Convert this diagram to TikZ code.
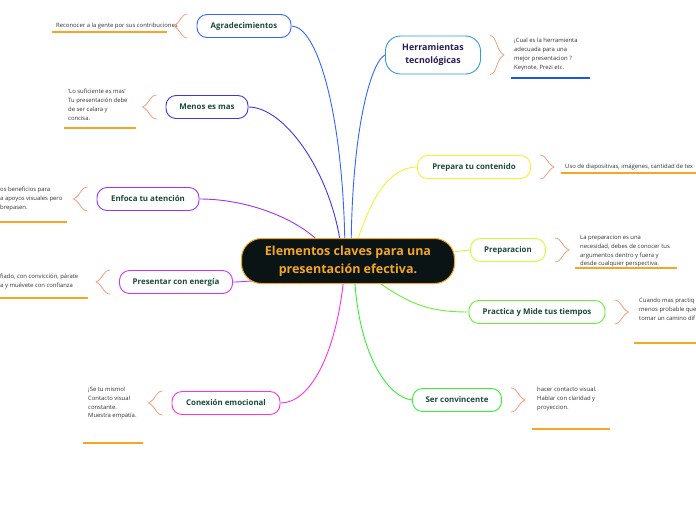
\documentclass[tikz,border=0pt]{standalone}
\usepackage{fontspec}
\setmainfont{Open Sans}
\usepackage{tikz}
\usetikzlibrary{calc, backgrounds}
\definecolor{MMBlue}{HTML}{3366FF}
\definecolor{MMIndigo}{HTML}{4433EE}
\definecolor{MMPurple}{HTML}{9933FF}
\definecolor{MMViolet}{HTML}{CC33FF}
\definecolor{MMPink}{HTML}{FF33DD}
\definecolor{MMSky}{HTML}{3399DD}
\definecolor{MMYellow}{HTML}{F5F030}
\definecolor{MMLime}{HTML}{C8FF33}
\definecolor{MMGreen}{HTML}{66F033}
\definecolor{MMMint}{HTML}{33F033}
\definecolor{MMOrange}{HTML}{F5A623}
\definecolor{MMBrace}{HTML}{F0A080}
\definecolor{MMDark}{HTML}{0A1414}
\definecolor{MMText}{HTML}{1A4A3A}
\definecolor{MMNavy}{HTML}{2A1A5A}
\definecolor{MMGray}{HTML}{333333}
\definecolor{MMLineBlue}{HTML}{1A55EE}

\begin{document}
\begin{tikzpicture}[x=1pt, y=-1pt,
    topic/.style={rectangle, rounded corners=10pt, draw, line width=0.9pt,
                  fill=white, minimum height=23pt, inner sep=2pt,
                  font=\fontsize{7.9}{9.5}\selectfont\bfseries, text=MMText},
    note/.style={align=left, inner sep=0pt,
                 font=\fontsize{5.9}{8.8}\selectfont, text=MMGray},
    link/.style={line width=0.9pt},
    brc/.style={draw=MMBrace, line width=0.8pt},
    uline/.style={draw=MMOrange, line width=1.3pt}
  ]
  \useasboundingbox (0,0) rectangle (696,520);

  \node[rectangle, rounded corners=20pt, draw=MMOrange, line width=1pt,
        fill=MMDark, text=MMOrange, minimum width=213pt, minimum height=45pt,
        align=center, font=\fontsize{12.5}{18}\selectfont\bfseries]
        (main) at (348,261) {Elementos claves para una\\presentación efectiva.};

  % left side
  \node[topic, draw=MMBlue, minimum width=94pt]    (agr)     at (244,26)  {Agradecimientos};
  \node[topic, draw=MMIndigo, minimum width=82pt]  (menos)   at (207,107) {Menos es mas};
  \node[topic, draw=MMPurple, minimum width=102pt] (enfoca)  at (148,199) {Enfoca tu atención};
  \node[topic, draw=MMViolet, minimum width=113pt] (energia) at (176,282) {Presentar con energía};
  \node[topic, draw=MMPink, minimum width=108pt]   (emocion) at (226,403) {Conexión emocional};

  % right side
  \node[topic, draw=MMSky, rounded corners=15pt, minimum width=95pt,
        minimum height=38pt, align=center, text=MMNavy,
        font=\fontsize{8.9}{13}\selectfont\bfseries]
        (herr) at (433,55) {Herramientas\\tecnológicas};
  \node[topic, draw=MMYellow, minimum width=113pt] (contenido) at (474,167) {Prepara tu contenido};
  \node[topic, draw=MMLime, minimum width=75pt]    (prep)      at (508,250) {Preparacion};
  \node[topic, draw=MMGreen, minimum width=136pt]  (practica)  at (537,312) {Practica y Mide tus tiempos};
  \node[topic, draw=MMMint, minimum width=89pt]    (convence)  at (457,400) {Ser convincente};

  % notes
  \node[note, anchor=west] (n-agr) at (56,26) {Reconocer a la gente por sus contribuciones};
  \node[note, anchor=north west] (n-menos) at (68,89)
        {‘Lo suficiente es mas’\\Tu presentación debe\\de ser calara y\\concisa.};
  \node[note, anchor=north west] (n-enfoca) at (0,187)
        {os beneficios para\\a apoyos visuales pero\\brepasen.};
  \node[note, anchor=north west] (n-energia) at (0,274)
        {fiado, con convicción, párate\\a y muévete con confianza};
  \node[note, anchor=north west] (n-emocion) at (88,387)
        {¡Se tu mismo!\\Contacto visual\\constante.\\Muestra empatía.};
  \node[note, anchor=north west] (n-herr) at (514,38)
        {¡Cual es la herramienta\\adecuada para una\\mejor presentacion ?\\Keynote, Prezi etc.};
  \node[note, anchor=west] (n-contenido) at (565,167)
        {Uso de diapositivas, imágenes, cantidad de tex};
  \node[note, anchor=north west] (n-prep) at (580,235)
        {La preparacion es una\\necesidad, debes de conocer tus\\argumentos dentro y fuera y\\desde cualquier perspectiva.};
  \node[note, anchor=north west] (n-practica) at (639,298)
        {Cuando mas practiq\\menos probable que\\tomar un camino dif};
  \node[note, anchor=north west] (n-convence) at (537,387)
        {hacer contacto visual.\\Hablar con claridad y\\proyeccion.};

  % underlines
  \foreach \xa/\xb/\yy in {52/167/32, 64/136/128, 0/67/222, 0/88/298, 83/143/443,
                           561/696/173, 575/677/268, 634/696/343, 532/610/429}{
    \draw[uline] (\xa,\yy) -- (\xb,\yy);
  }
  \draw[uline, draw=MMLineBlue] (511,78) -- (590,78);

  % braces
  \foreach \nd in {agr, menos, enfoca, energia, emocion}{
    \draw[brc] let \p1=(\nd.north west), \p2=(\nd.south west) in
      ({\x1-9pt},{\y1}) .. controls ({\x1-16pt},{\y1}) and ({\x1-15pt},{(\y1+\y2)/2+4pt})
      .. ({\x1-23pt},{(\y1+\y2)/2})
      .. controls ({\x1-15pt},{(\y1+\y2)/2-4pt}) and ({\x1-16pt},{\y2}) .. ({\x1-9pt},{\y2});
  }
  \foreach \nd in {herr, contenido, prep, practica, convence}{
    \draw[brc] let \p1=(\nd.north east), \p2=(\nd.south east) in
      ({\x1+9pt},{\y1}) .. controls ({\x1+16pt},{\y1}) and ({\x1+15pt},{(\y1+\y2)/2+4pt})
      .. ({\x1+23pt},{(\y1+\y2)/2})
      .. controls ({\x1+15pt},{(\y1+\y2)/2-4pt}) and ({\x1+16pt},{\y2}) .. ({\x1+9pt},{\y2});
  }

  % connectors
  \begin{pgfonlayer}{background}
    \draw[link, MMBlue] (agr.east) .. controls +(25,0) and +(-3,-130) .. (main.98);
    \draw[link, MMIndigo] (menos.east) .. controls +(35,0) and +(-12,-70) .. (main.110);
    \draw[link, MMPurple] (enfoca.east) .. controls +(45,0) and +(-25,-22) .. (main.145);
    \draw[link, MMViolet] (energia.east) .. controls +(8,0) and +(-8,0)
          .. ($(main.south west)+(14,-3)$);
    \draw[link, MMPink] (emocion.east) .. controls +(30,0) and +(-8,70) .. (main.258);
    \draw[link, MMBlue] (herr.west) .. controls +(-12,5) and +(2,-120) .. (main.82);
    \draw[link, MMYellow] (contenido.west) .. controls +(-30,0) and +(12,-35) .. (main.66);
    \draw[link, MMLime] (prep.west) -- (main.5);
    \draw[link, MMGreen] (practica.west) .. controls +(-40,0) and +(30,20) .. (main.-35);
    \draw[link, MMMint] (convence.west) .. controls +(-25,-3) and +(5,70) .. (main.-73);
  \end{pgfonlayer}
\end{tikzpicture}
\end{document}
